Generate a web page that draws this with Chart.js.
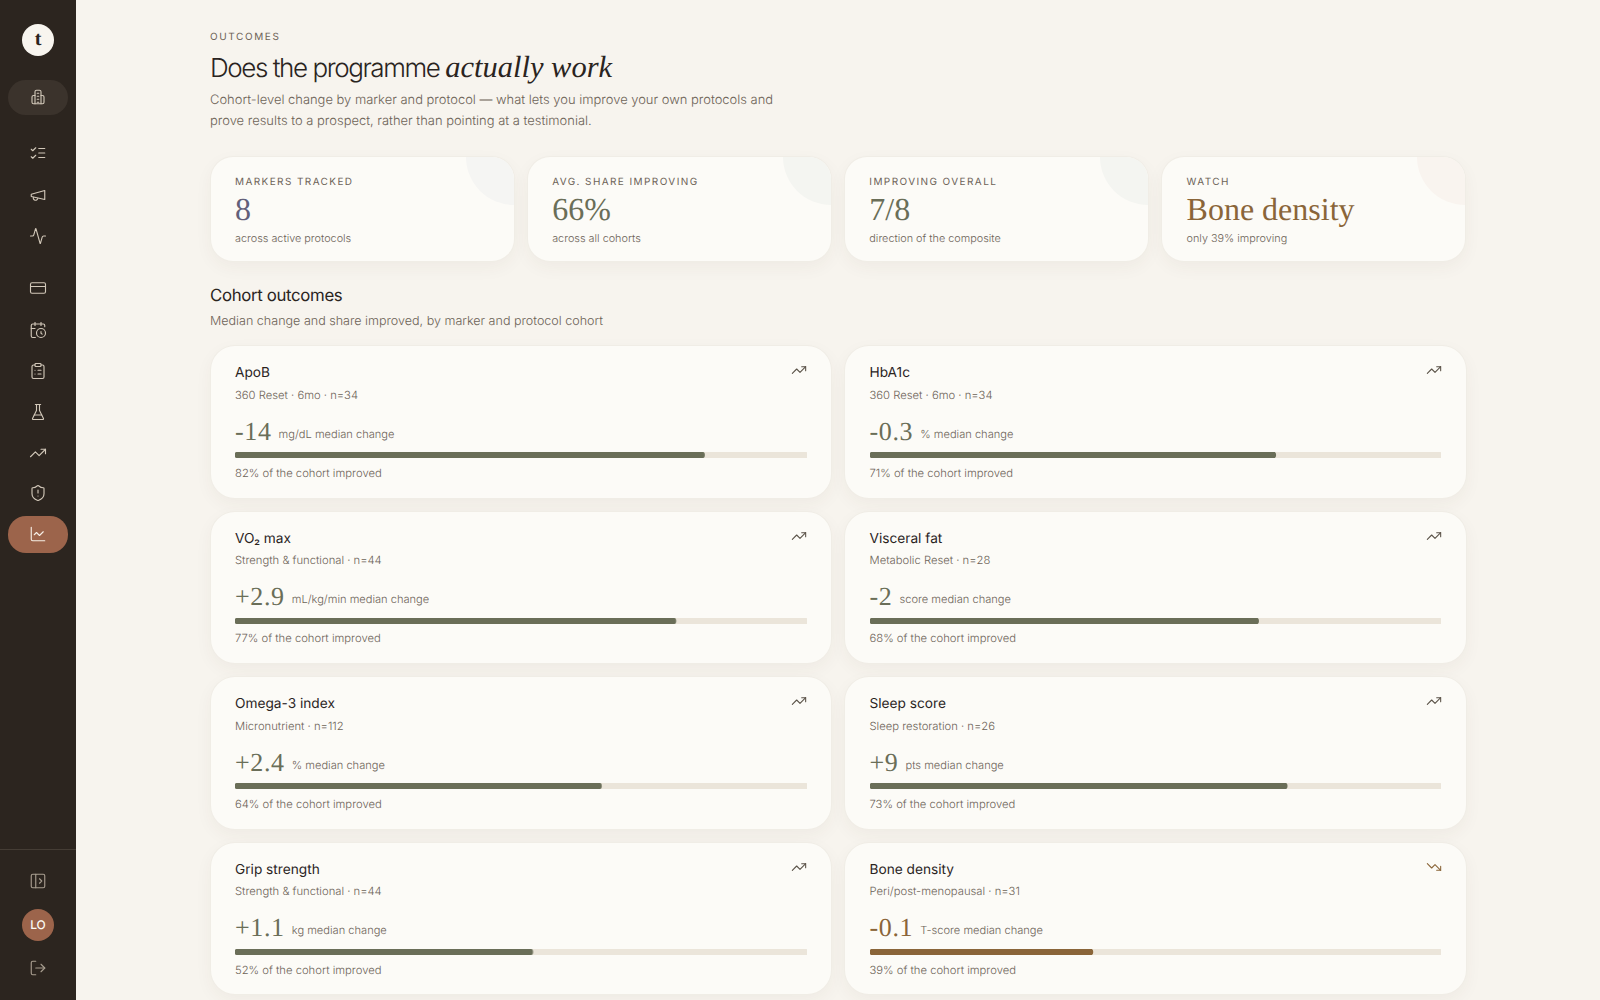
<!DOCTYPE html>
<html><head><meta charset="utf-8">
<script src="https://cdn.jsdelivr.net/npm/chart.js@4"></script>
<style>
*{box-sizing:border-box;margin:0;padding:0}
html,body{width:1600px;height:1000px;overflow:hidden;background:#f7f4ee;font-family:Inter,sans-serif;color:#2a241e;text-rendering:geometricPrecision}
:root{--serif:"Liberation Serif",serif}
#side{position:absolute;left:0;top:0;width:76px;height:1000px;background:#2c251f}
.logo{position:absolute;left:22px;top:24px;width:32px;height:32px;border-radius:50%;background:#f8f5ef;color:#2a241e;font:700 20px/30px var(--serif);text-align:center}
.pill{position:absolute;left:8px;width:60px;border-radius:18px}
.ic{position:absolute;left:29px;width:18px;height:18px;fill:none;stroke:#d2c8b9;stroke-width:1.5;stroke-linecap:round;stroke-linejoin:round}
.div{position:absolute;left:0;top:849px;width:76px;height:1px;background:#453d35}
.av{position:absolute;left:22px;top:909px;width:32px;height:32px;border-radius:50%;background:#9c644b;color:#fbfaf6;font:500 12px/32px Inter;text-align:center}
#main{position:absolute;left:210px;top:0;width:1256px}
.eyebrow{position:absolute;top:29.5px;left:0;font:400 10px/14px Inter;letter-spacing:.16em;color:#6d6357}
h1{position:absolute;top:46.5px;left:0;white-space:nowrap;font:300 26px/40px Inter;letter-spacing:-.055em;color:#2a241e}
h1 em{font:italic 400 30.5px/40px var(--serif);letter-spacing:0}
.lead{position:absolute;top:90.3px;left:0;width:600px;font:300 12.95px/21px Inter;color:#6d6357}
.kpis{position:absolute;top:157px;left:.6px;width:1254.6px;display:grid;grid-template-columns:repeat(4,1fr);gap:14.15px}
.kpi{position:relative;height:104px;background:#fcfbf7;border-radius:22px;overflow:hidden;box-shadow:0 0 0 1px #f0ede6,0 6px 18px rgba(70,55,40,.05)}
.kpi i{position:absolute;right:-48px;top:-48px;width:96px;height:96px;border-radius:50%}
.kpi .l{position:absolute;left:24.4px;top:17.5px;font:400 10px/14px Inter;letter-spacing:.14em;color:#6d6357}
.kpi .v{position:absolute;left:24.4px;top:32px;font:400 32px/40px var(--serif);white-space:nowrap}
.kpi .s{position:absolute;left:24.4px;top:74px;font:300 10.85px/14px Inter;color:#6d6357}
h2{position:absolute;top:284.5px;left:0;font:400 16.8px/22px Inter;letter-spacing:-.02em;color:#2a241e}
.h2s{position:absolute;top:313px;left:0;font:300 12.55px/18px Inter;color:#6d6357}
#grid{position:absolute;top:346px;left:.5px;width:1255px;display:grid;grid-template-columns:620.5px 620.5px;grid-auto-rows:151.6px;gap:14px}
.card{position:relative;background:#fcfbf7;border-radius:24px;box-shadow:0 0 0 1px #f0ede6,0 6px 18px rgba(70,55,40,.05)}
.card .t{position:absolute;left:24.5px;top:17px;font:400 13.7px/20px Inter;color:#2a241e}
.card .c{position:absolute;left:24.5px;top:40.6px;font:300 11.25px/16px Inter;color:#6d6357}
.card .n{position:absolute;left:24.5px;top:67.5px;white-space:nowrap;font:400 26px/36px var(--serif);letter-spacing:.025em}
.card .n span{position:relative;top:-2px;font:300 11.1px/16px Inter;color:#6d6357;margin-left:7px;letter-spacing:0}
.card .b{position:absolute;left:24.5px;top:106px;width:571.5px;height:6px}
.card .f{position:absolute;left:24.5px;top:118.8px;font:300 11.25px/16px Inter;color:#6d6357}
.card svg{position:absolute;right:24px;top:16px;width:16px;height:16px;fill:none;stroke-width:1.6;stroke-linecap:round;stroke-linejoin:round}
</style></head><body>
<div id="side"></div>
<div id="main">
<div class="eyebrow">OUTCOMES</div>
<h1>Does the programme <em>actually work</em></h1>
<p class="lead">Cohort-level change by marker and protocol — what lets you improve your own protocols and<br>prove results to a prospect, rather than pointing at a testimonial.</p>
<div class="kpis" id="kpis"></div>
<h2>Cohort outcomes</h2>
<div class="h2s">Median change and share improved, by marker and protocol cohort</div>
<div id="grid"></div>
</div>
<script>
const markers=["ApoB","HbA1c","VO₂ max","Visceral fat","Omega-3 index","Sleep score","Grip strength","Bone density"];
const cohorts=["360 Reset · 6mo · n=34","360 Reset · 6mo · n=34","Strength & functional · n=44","Metabolic Reset · n=28","Micronutrient · n=112","Sleep restoration · n=26","Strength & functional · n=44","Peri/post-menopausal · n=31"];
const changes=["-14","-0.3","+2.9","-2","+2.4","+9","+1.1","-0.1"];
const units=["mg/dL","%","mL/kg/min","score","%","pts","kg","T-score"];
const improved=[82,71,77,68,64,73,52,39];
const watchFlags=[false,false,false,false,false,false,false,true];
const kpiLabels=["MARKERS TRACKED","AVG. SHARE IMPROVING","IMPROVING OVERALL","WATCH"];
const kpiValues=["8","66%","7/8","Bone density"];
const kpiNotes=["across active protocols","across all cohorts","direction of the composite","only 39% improving"];
const kpiColors=["#62607a","#6a6e58","#6a6e58","#8a6539"];
const kpiTints=["#f5f5f3","#f4f5f1","#f4f5f1","#f9f4ef"];
const paths={
home:'<path d="M8 21V5a2 2 0 0 1 2-2h4a2 2 0 0 1 2 2v16"/><path d="M8 10H6a2 2 0 0 0-2 2v7a2 2 0 0 0 2 2h12a2 2 0 0 0 2-2v-7a2 2 0 0 0-2-2h-2"/><path d="M11 7h2M11 11h2M11 15h2M11 19h2"/>',
list:'<path d="m3 17 2 2 4-4"/><path d="m3 7 2 2 4-4"/><path d="M13 6h8"/><path d="M13 12h8"/><path d="M13 18h8"/>',
mega:'<path d="m3 11 18-5v12L3 14v-3z"/><path d="M11.6 16.8a3 3 0 1 1-5.8-1.6"/>',
act:'<path d="M22 12h-2.48a2 2 0 0 0-1.93 1.46l-2.35 8.36a.25.25 0 0 1-.48 0L9.24 2.18a.25.25 0 0 0-.48 0l-2.35 8.36A2 2 0 0 1 4.49 12H2"/>',
card:'<rect x="2" y="5" width="20" height="14" rx="2"/><path d="M2 10h20"/>',
cal:'<path d="M21 7.5V6a2 2 0 0 0-2-2H5a2 2 0 0 0-2 2v14a2 2 0 0 0 2 2h3.5"/><path d="M16 2v4"/><path d="M8 2v4"/><path d="M3 10h5"/><path d="M17.5 17.5 16 16.3V14"/><circle cx="16" cy="16" r="6"/>',
clip:'<rect x="8" y="2" width="8" height="4" rx="1"/><path d="M16 4h2a2 2 0 0 1 2 2v14a2 2 0 0 1-2 2H6a2 2 0 0 1-2-2V6a2 2 0 0 1 2-2h2"/><path d="M12 11h4"/><path d="M12 16h4"/><path d="M8 11h.01"/><path d="M8 16h.01"/>',
flask:'<path d="M10 2v7.527a2 2 0 0 1-.211.896L4.72 20.55a1 1 0 0 0 .9 1.45h12.76a1 1 0 0 0 .9-1.45l-5.069-10.127A2 2 0 0 1 14 9.527V2"/><path d="M8.5 2h7"/><path d="M7 16h10"/>',
up:'<path d="M22 7 13.5 15.5 8.5 10.5 2 17"/><path d="M16 7h6v6"/>',
down:'<path d="M22 17 13.5 8.5 8.5 13.5 2 7"/><path d="M16 17h6v-6"/>',
shield:'<path d="M20 13c0 5-3.5 7.5-7.66 8.95a1 1 0 0 1-.67-.01C7.5 20.5 4 18 4 13V6a1 1 0 0 1 1-1c2 0 4.5-1.2 6.24-2.72a1.17 1.17 0 0 1 1.52 0C14.51 3.81 17 5 19 5a1 1 0 0 1 1 1z"/><path d="M12 8v4"/><path d="M12 16h.01"/>',
chart:'<path d="M3 3v16a2 2 0 0 0 2 2h16"/><path d="m19 9-5 5-4-4-3 3"/>',
panel:'<rect x="3" y="3" width="18" height="18" rx="2"/><path d="M9 3v18"/><path d="m14 9 3 3-3 3"/>',
out:'<path d="M9 21H5a2 2 0 0 1-2-2V5a2 2 0 0 1 2-2h4"/><path d="m16 17 5-5-5-5"/><path d="M21 12H9"/>'
};
const navIcons=["home","list","mega","act","card","cal","clip","flask","up","shield","chart","panel","out"];
const navCentres=[97,153,195,236,288,330,371,412,453,493,534,881,968];
let sideHtml='<div class="logo">t</div><div class="pill" style="top:80px;height:35px;background:#3b332c"></div><div class="pill" style="top:516px;height:37px;background:#9c644b"></div><div class="div"></div><div class="av">LO</div>';
navIcons.forEach((k,i)=>{
  const col=k==="chart"?"#f6efe6":(k==="panel"||k==="out"?"#a89e90":"#d2c8b9");
  sideHtml+=`<svg class="ic" viewBox="0 0 24 24" style="top:${navCentres[i]-9}px;stroke:${col}">${paths[k]}</svg>`;
});
document.getElementById('side').innerHTML=sideHtml;
document.getElementById('kpis').innerHTML=kpiLabels.map((l,i)=>`<div class="kpi"><i style="background:${kpiTints[i]}"></i><div class="l">${l}</div><div class="v" style="color:${kpiColors[i]}">${kpiValues[i]}</div><div class="s">${kpiNotes[i]}</div></div>`).join('');
const OK="#6a6e58",WARN="#8a6539",TRACK="#ebe5da";
const grid=document.getElementById('grid');
markers.forEach((m,i)=>{
  const col=watchFlags[i]?WARN:OK;
  const el=document.createElement('div');el.className='card';
  el.innerHTML=`<div class="t">${m}</div><div class="c">${cohorts[i].replace('&','&amp;')}</div><svg viewBox="0 0 24 24" style="stroke:${watchFlags[i]?WARN:'#5a5248'}">${paths[watchFlags[i]?'down':'up']}</svg><div class="n" style="color:${col}">${changes[i]}<span>${units[i]} median change</span></div><div class="b"><canvas></canvas></div><div class="f">${improved[i]}% of the cohort improved</div>`;
  grid.appendChild(el);
  new Chart(el.querySelector('canvas'),{type:'bar',data:{labels:[m],datasets:[
    {label:'Improved',data:[improved[i]],backgroundColor:col,order:0},
    {label:'Cohort',data:[100],backgroundColor:TRACK,order:1}
  ]},options:{indexAxis:'y',responsive:true,maintainAspectRatio:false,animation:false,
    layout:{padding:0},
    datasets:{bar:{grouped:false,barThickness:6,borderRadius:3,borderSkipped:false}},
    plugins:{legend:{display:false},tooltip:{enabled:false}},
    scales:{x:{display:false,min:0,max:100},y:{display:false}}}});
});
</script>
</body></html>
